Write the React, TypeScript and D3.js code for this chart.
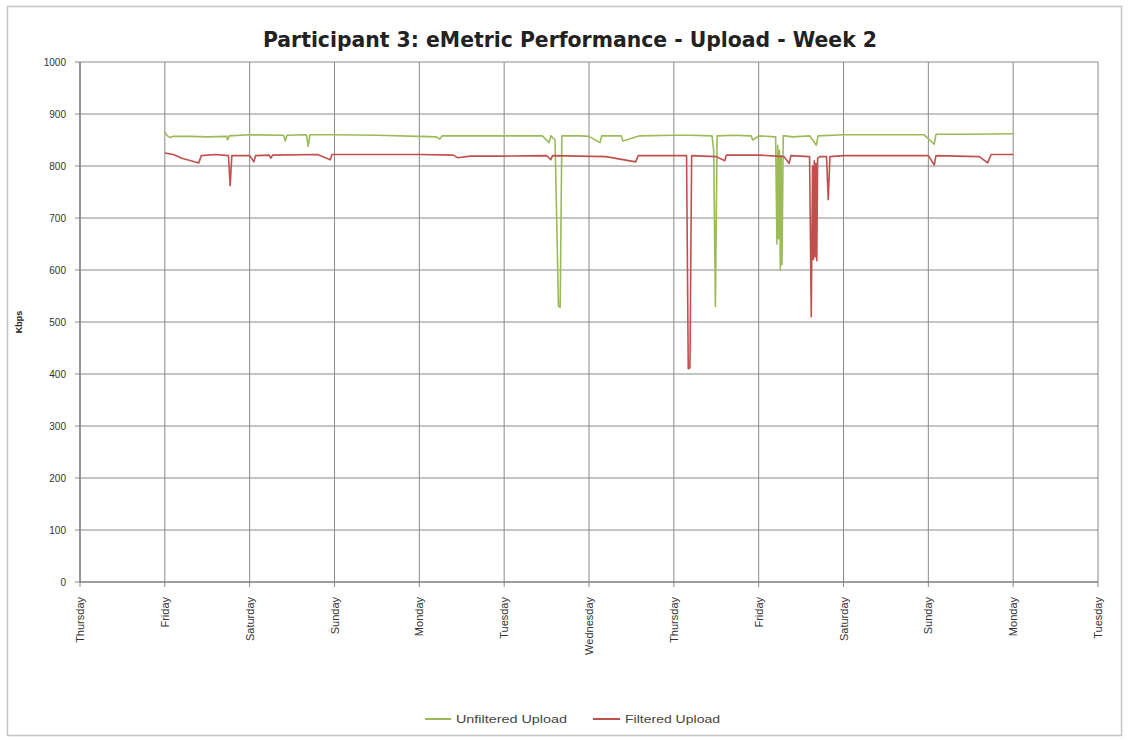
import React from "react";
import * as d3 from "d3";

const TITLE = "Participant 3: eMetric Performance - Upload - Week 2";
const Y_TICKS = [0, 100, 200, 300, 400, 500, 600, 700, 800, 900, 1000];
const DAY_LABELS = ["Thursday", "Friday", "Saturday", "Sunday", "Monday", "Tuesday", "Wednesday", "Thursday", "Friday", "Saturday", "Sunday", "Monday", "Tuesday"];
const SERIES_NAMES = ["Unfiltered Upload", "Filtered Upload"];

// days since first Thursday
const unfilteredDays = [1.0, 1.03, 1.06, 1.1, 1.3, 1.5, 1.73, 1.74, 1.76, 2.0, 2.4, 2.42, 2.44, 2.67, 2.69, 2.71, 3.0, 3.5, 4.0, 4.2, 4.24, 4.27, 4.5, 5.0, 5.45, 5.53, 5.55, 5.6, 5.64, 5.66, 5.68, 5.9, 6.0, 6.13, 6.15, 6.38, 6.4, 6.6, 7.0, 7.2, 7.45, 7.47, 7.49, 7.51, 7.7, 7.91, 7.93, 8.0, 8.2, 8.215, 8.225, 8.235, 8.245, 8.255, 8.265, 8.275, 8.29, 8.31, 8.4, 8.6, 8.68, 8.7, 9.0, 9.5, 9.95, 10.07, 10.09, 10.5, 11.0];
const unfilteredValues = [865, 858, 855, 857, 857, 856, 857, 850, 858, 860, 859, 848, 859, 860, 838, 860, 860, 859, 857, 856, 852, 858, 858, 858, 858, 845, 858, 850, 530, 528, 858, 858, 857, 845, 858, 858, 848, 858, 859, 859, 858, 830, 530, 858, 859, 858, 850, 858, 856, 650, 840, 660, 830, 600, 820, 610, 858, 858, 856, 858, 840, 858, 860, 860, 860, 842, 861, 861, 862];

const filteredDays = [1.0, 1.1, 1.2, 1.35, 1.4, 1.43, 1.6, 1.75, 1.77, 1.79, 2.0, 2.05, 2.07, 2.23, 2.25, 2.27, 2.8, 2.95, 2.97, 3.5, 4.0, 4.4, 4.45, 4.6, 5.0, 5.5, 5.55, 5.57, 6.2, 6.55, 6.58, 7.0, 7.15, 7.17, 7.19, 7.21, 7.5, 7.6, 7.62, 8.0, 8.3, 8.36, 8.38, 8.6, 8.62, 8.635, 8.645, 8.655, 8.665, 8.675, 8.685, 8.695, 8.72, 8.8, 8.82, 8.84, 9.0, 9.5, 10.0, 10.07, 10.09, 10.6, 10.7, 10.74, 11.0];
const filteredValues = [825, 822, 815, 808, 806, 820, 822, 820, 762, 820, 820, 808, 820, 821, 815, 821, 822, 812, 822, 822, 822, 821, 816, 819, 819, 820, 812, 820, 818, 808, 820, 820, 820, 410, 412, 820, 818, 810, 821, 821, 818, 805, 820, 818, 510, 800, 620, 810, 625, 805, 618, 815, 818, 818, 735, 818, 820, 820, 820, 802, 820, 818, 806, 822, 822];

const W = 1128;
const H = 740;
const M = { left: 80, right: 1098, top: 62, bottom: 582 };
const GREEN = "#9bbb59";
const RED = "#c0504d";
const FONT = "'Liberation Sans', Arial, sans-serif";
const TITLE_FONT = "'Liberation Sans Narrow', 'DejaVu Sans Condensed', 'Liberation Sans', sans-serif";

export default function App() {
  const x = d3.scaleLinear().domain([0, 12]).range([M.left, M.right]);
  const y = d3.scaleLinear().domain([0, 1000]).range([M.bottom, M.top]);
  const line = d3
    .line<[number, number]>()
    .x((d) => x(d[0]))
    .y((d) => y(d[1]));
  const green: [number, number][] = unfilteredDays.map((d, i) => [d, unfilteredValues[i]]);
  const red: [number, number][] = filteredDays.map((d, i) => [d, filteredValues[i]]);
  const dayTicks = DAY_LABELS.map((_, i) => i);

  return (
    <svg width={W} height={H} style={{ position: "absolute", left: 0, top: 0, background: "#fff" }} fontFamily={FONT}>
      <rect x={7.5} y={6.5} width={1114} height={729} fill="#fff" stroke="#c4c4c4" strokeWidth={1.5} />
      <text x={570} y={47} textAnchor="middle" fontSize={22} fontWeight="bold" fill="#222" fontFamily={TITLE_FONT} textLength={614} lengthAdjust="spacingAndGlyphs">
        {TITLE}
      </text>
      {/* horizontal grid */}
      {Y_TICKS.map((t) => (
        <g key={"y" + t}>
          <line x1={M.left} x2={M.right} y1={y(t)} y2={y(t)} stroke="#8a8a8a" strokeWidth={1} />
          <line x1={M.left - 5} x2={M.left} y1={y(t)} y2={y(t)} stroke="#8a8a8a" strokeWidth={1} />
          <text x={M.left - 14} y={y(t) + 3.5} textAnchor="end" fontSize={10} fill="#333">
            {t}
          </text>
        </g>
      ))}
      {/* vertical grid */}
      {dayTicks.map((d) => (
        <g key={"x" + d}>
          <line x1={x(d)} x2={x(d)} y1={M.top} y2={M.bottom + 5} stroke="#8a8a8a" strokeWidth={1} />
          <text transform={`translate(${x(d) + 4},${M.bottom + 15}) rotate(-90)`} textAnchor="end" fontSize={11} fill="#333">
            {DAY_LABELS[d]}
          </text>
        </g>
      ))}
      <line x1={M.left} x2={M.left} y1={M.top} y2={M.bottom} stroke="#777" strokeWidth={1.2} />
      <line x1={M.left} x2={M.right} y1={M.bottom} y2={M.bottom} stroke="#777" strokeWidth={1.2} />
      <text transform={`translate(22,${(M.top + M.bottom) / 2}) rotate(-90)`} textAnchor="middle" fontSize={9} fontWeight="bold" fill="#222">
        Kbps
      </text>
      <path d={line(green) ?? ""} fill="none" stroke={GREEN} strokeWidth={1.6} strokeLinejoin="round" />
      <path d={line(red) ?? ""} fill="none" stroke={RED} strokeWidth={1.6} strokeLinejoin="round" />
      {/* legend */}
      <line x1={425} x2={451} y1={719} y2={719} stroke={GREEN} strokeWidth={2} />
      <text x={456} y={722.5} fontSize={11} fill="#444" textLength={111} lengthAdjust="spacingAndGlyphs">
        {SERIES_NAMES[0]}
      </text>
      <line x1={593} x2={620} y1={719} y2={719} stroke={RED} strokeWidth={2} />
      <text x={625} y={722.5} fontSize={11} fill="#444" textLength={95} lengthAdjust="spacingAndGlyphs">
        {SERIES_NAMES[1]}
      </text>
    </svg>
  );
}
